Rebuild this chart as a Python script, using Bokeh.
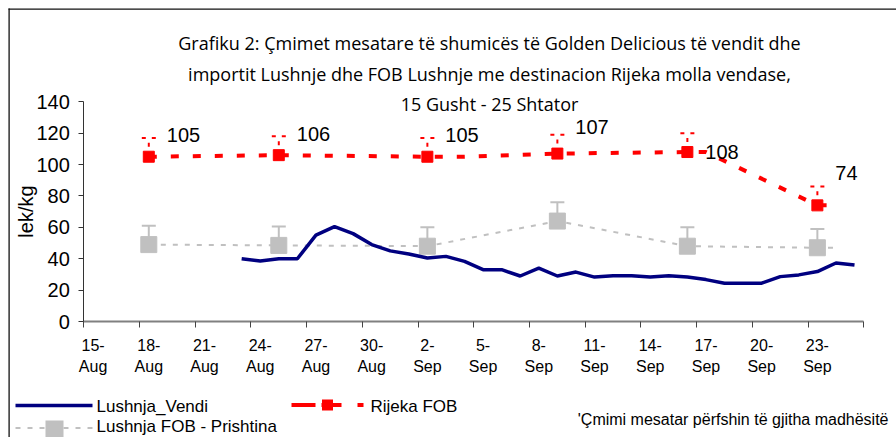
import pandas as pd
from bokeh.plotting import figure
from bokeh.models import (ColumnDataSource, Range1d, FixedTicker, Whisker, TeeHead,
                          LabelSet, Arrow, LinearAxis)
from bokeh.core.properties import value
from bokeh.embed import file_html
from bokeh.resources import INLINE

# ---------------- data ----------------
days = [f"{d.day}-{d.strftime('%b')}" for d in pd.date_range("2008-08-15", "2008-09-25")]

tick_labels = ["15-Aug", "18-Aug", "21-Aug", "24-Aug", "27-Aug", "30-Aug", "2-Sep",
               "5-Sep", "8-Sep", "11-Sep", "14-Sep", "17-Sep", "20-Sep", "23-Sep"]

vendi_dates = ["23-Aug", "24-Aug", "25-Aug", "26-Aug", "27-Aug", "28-Aug", "29-Aug",
               "30-Aug", "31-Aug", "1-Sep", "2-Sep", "3-Sep", "4-Sep", "5-Sep", "6-Sep",
               "7-Sep", "8-Sep", "9-Sep", "10-Sep", "11-Sep", "12-Sep", "13-Sep", "14-Sep",
               "15-Sep", "16-Sep", "17-Sep", "18-Sep", "19-Sep", "20-Sep", "21-Sep",
               "22-Sep", "23-Sep", "24-Sep", "25-Sep"]
vendi_values = [40, 38.5, 40, 40, 55, 60.5, 56, 49, 45, 43, 40.5, 41.5, 38.3, 33, 33,
                29, 34, 29, 31.5, 28.3, 29.2, 29.2, 28.3, 29.2, 28.3, 26.7, 24.4, 24.4,
                24.4, 28.6, 29.7, 31.8, 37.3, 36]

rijeka_dates = ["18-Aug", "25-Aug", "2-Sep", "4-Sep", "9-Sep", "16-Sep", "17-Sep", "23-Sep", "24-Sep"]
rijeka_values = [105, 106, 105, 105, 107, 108, 108, 74, 74]
rijeka_marked = [True, True, True, False, True, True, False, True, False]
rijeka_error = 12

prishtina_dates = ["18-Aug", "25-Aug", "2-Sep", "9-Sep", "16-Sep", "23-Sep", "24-Sep"]
prishtina_values = [49, 48.5, 48, 64, 48, 47, 47]
prishtina_marked = [True, True, True, True, True, True, False]
prishtina_error = 12

y_ticks = [0, 20, 40, 60, 80, 100, 120, 140]
y_max = 140

series_names = ["Lushnja_Vendi", "Rijeka FOB", "Lushnja FOB - Prishtina"]
title_lines = ["Grafiku 2: Çmimet mesatare të shumicës të Golden Delicious të vendit dhe",
               "importit Lushnje dhe FOB Lushnje me destinacion Rijeka molla vendase,",
               "15 Gusht - 25 Shtator"]
footnote = "'Çmimi mesatar përfshin të gjitha madhësitë"

# ---------------- helpers ----------------
def idx(dates):
    return [days.index(d) for d in dates]

RED = "#FF0000"
GRAY = "#C0C0C0"
NAVY = "#000080"
ARIAL = "Liberation Sans"
TITLE_FONT = "Open Sans"

W, H = 896, 437
# pixel geometry of the plot area (axis ends)
PX_L, PX_R, PX_ZERO, PX_TOP = 83.3, 863.3, 321.0, 101.3
n = len(days)
xk = (PX_R - PX_L) / n
yk = (PX_ZERO - PX_TOP) / y_max
x_range = Range1d(-0.5 - PX_L / xk, n - 0.5 + (W - PX_R) / xk)
y_range = Range1d(-(H - PX_ZERO) / yk, PX_ZERO / yk)

vendi = ColumnDataSource(dict(x=idx(vendi_dates), y=vendi_values))
rijeka = ColumnDataSource(dict(x=idx(rijeka_dates), y=rijeka_values))
prishtina = ColumnDataSource(dict(x=idx(prishtina_dates), y=prishtina_values))

rk = [i for i, m in enumerate(rijeka_marked) if m]
label_dy = [15, 14, 15, 20, -7, 25]   # screen offsets of the value labels
rijeka_pts = ColumnDataSource(dict(
    x=[idx(rijeka_dates)[i] for i in rk],
    y=[rijeka_values[i] for i in rk],
    up=[rijeka_values[i] + rijeka_error for i in rk],
    text=[str(rijeka_values[i]) for i in rk],
    dy=label_dy,
))
pk = [i for i, m in enumerate(prishtina_marked) if m]
prishtina_pts = ColumnDataSource(dict(
    x=[idx(prishtina_dates)[i] for i in pk],
    y=[prishtina_values[i] for i in pk],
    up=[prishtina_values[i] + prishtina_error for i in pk],
))

# ---------------- figure ----------------
p = figure(width=W, height=H, output_backend="svg", toolbar_location=None,
           x_range=x_range, y_range=y_range,
           x_axis_location=None, y_axis_location=None,
           min_border_left=0, min_border_right=0, min_border_top=0, min_border_bottom=0)
p.outline_line_color = None
p.background_fill_color = "white"
p.border_fill_color = "white"
p.grid.visible = False

# x axis: labels at category centres, tick marks at category boundaries
tick_pos = [days.index(t) for t in tick_labels]
bounds = [i - 0.5 for i in range(0, n + 1, 3)]
xaxis = LinearAxis(fixed_location=0, bounds=(-0.5, n - 0.5),
                   ticker=FixedTicker(ticks=tick_pos, minor_ticks=bounds))
xaxis.major_label_overrides = {t: lab.replace("-", "-\n") for t, lab in zip(tick_pos, tick_labels)}
xaxis.major_tick_out = 0
xaxis.major_tick_in = 0
xaxis.minor_tick_out = 6
xaxis.minor_tick_in = 0
xaxis.minor_tick_line_color = "#444444"
xaxis.minor_tick_line_width = 1
xaxis.axis_line_color = "#808080"
xaxis.axis_line_width = 2
xaxis.major_label_text_font = ARIAL
xaxis.major_label_text_font_size = "16px"
xaxis.major_label_text_color = "black"
xaxis.major_label_text_line_height = 1.25
xaxis.major_label_standoff = 9
p.add_layout(xaxis, "below")

yaxis = LinearAxis(fixed_location=-0.5, bounds=(0, y_max),
                   ticker=FixedTicker(ticks=y_ticks, minor_ticks=[]))
yaxis.major_tick_out = 5
yaxis.major_tick_in = 0
yaxis.major_tick_line_color = "#333333"
yaxis.axis_line_color = "#333333"
yaxis.axis_line_width = 1
yaxis.major_label_text_font = ARIAL
yaxis.major_label_text_font_size = "20px"
yaxis.major_label_text_color = "black"
yaxis.major_label_standoff = 9
yaxis.axis_label = "lek/kg"
yaxis.axis_label_text_font = ARIAL
yaxis.axis_label_text_font_size = "20px"
yaxis.axis_label_text_font_style = "normal"
yaxis.axis_label_text_color = "black"
yaxis.axis_label_standoff = -4
p.add_layout(yaxis, "left")

# error bars (upper only), drawn beneath the markers
w_red = Whisker(source=rijeka_pts, base="x", lower="y", upper="up", dimension="height",
                line_color=RED, line_width=2, line_dash="4 6", lower_head=None,
                upper_head=TeeHead(size=14, line_color=RED, line_width=2, line_dash="4 6"),
                level="underlay")
w_gray = Whisker(source=prishtina_pts, base="x", lower="y", upper="up", dimension="height",
                 line_color=GRAY, line_width=2, lower_head=None,
                 upper_head=TeeHead(size=14, line_color=GRAY, line_width=2),
                 level="underlay")
p.add_layout(w_red)
p.add_layout(w_gray)

# series
p.line("x", "y", source=prishtina, line_color=GRAY, line_width=2, line_dash="5 7")
p.scatter("x", "y", source=prishtina_pts, marker="square", size=16,
          fill_color=GRAY, line_color=GRAY)
p.line("x", "y", source=vendi, line_color=NAVY, line_width=3.5)
p.line("x", "y", source=rijeka, line_color=RED, line_width=4, line_dash="8 14")
p.scatter("x", "y", source=rijeka_pts, marker="square", size=11,
          fill_color=RED, line_color=RED)

p.add_layout(LabelSet(source=rijeka_pts, x="x", y="y", text="text", x_offset=18, y_offset="dy",
                      text_font=value(ARIAL), text_font_size=value("20px"), text_color="black",
                      text_baseline="alphabetic", text_align="left"))

# ---- page-level annotations (screen px; frame == whole canvas) ----
def sx(px):
    return px


def sy(py):
    return H - py


def seg(x0, y0, x1, y1, color, width, dash="solid"):
    p.add_layout(Arrow(end=None, x_start=sx(x0), y_start=sy(y0), x_end=sx(x1), y_end=sy(y1),
                       start_units="screen", end_units="screen",
                       line_color=color, line_width=width, line_dash=dash))


def text(x, y, s, size, font=ARIAL, align="left"):
    src = ColumnDataSource(dict(x=[sx(x)], y=[sy(y)], t=[s]))
    p.add_layout(LabelSet(source=src, x="x", y="y", text="t", x_units="screen", y_units="screen",
                          text_font=value(font), text_font_size=value(size), text_color="black",
                          text_align=align, text_baseline="alphabetic"))


# outer border of the chart area
seg(8.6, 8, 8.6, H + 5, "#111111", 1.3)
seg(8, 8.6, W + 5, 8.6, "#111111", 1.3)

# title
for line, base in zip(title_lines, [49, 80, 110]):
    text(489, base, line, "18px", font=TITLE_FONT, align="center")

# legend
seg(15, 405, 92, 405, NAVY, 3.5)
text(96, 411, series_names[0], "17px")
seg(291, 404.5, 363, 404.5, RED, 4, "24 6 20 16 8 10")
seg(321.5, 404.5, 332.5, 404.5, RED, 11)
text(370, 411, series_names[1], "17px")
seg(15, 427.5, 92, 427.5, GRAY, 2, "5 7")
seg(45, 428.5, 63, 428.5, GRAY, 17)
text(96, 431.5, series_names[2], "17px")
text(888, 424.3, footnote, "16px", align="right")

open("out.html", "w").write(file_html(p, INLINE))
